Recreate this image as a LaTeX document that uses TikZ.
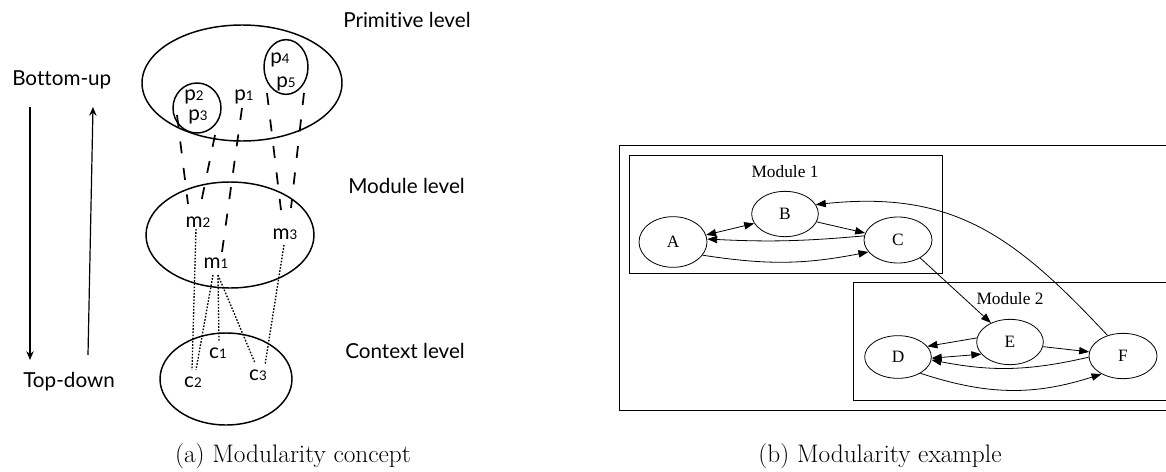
\documentclass[tikz,border=0pt]{standalone}
\usepackage{fontspec}
\usetikzlibrary{shapes.geometric,arrows.meta}
\newfontfamily\gillfont[Ligatures=NoCommon]{Lato}
\newfontfamily\graphfont{Liberation Serif}
% small index digit after a letter (p2, m1, c3 ...)
\newcommand\idx[1]{{\fontsize{10}{10}\selectfont #1}}

\begin{document}
\begin{tikzpicture}[x=0.75pt,y=0.75pt,
  every node/.style={inner sep=0pt},
  gill/.style={font=\gillfont\fontsize{15.5}{18}\selectfont},
  levelell/.style={draw, ellipse, line width=1.1pt},
  longdash/.style={line width=1.3pt, dash pattern=on 9pt off 11pt},
  finedot/.style={line width=1pt, dash pattern=on 1.2pt off 1.2pt},
  flowarrow/.style={line width=0.9pt, -{Stealth[length=6.5pt,width=5.5pt]}},
  gnode/.style={draw, ellipse, line width=0.6pt, font=\graphfont\fontsize{13}{15}\selectfont},
  cluster/.style={line width=0.7pt},
  gedge/.style={line width=0.6pt, -{Triangle[length=7.5pt,width=5.5pt]}},
  gedgeboth/.style={line width=0.6pt, {Triangle[length=7.5pt,width=5.5pt]}-{Triangle[length=7.5pt,width=5.5pt]}},
  caption/.style={font=\fontsize{19}{22}\selectfont, anchor=base}
]
\useasboundingbox (0,0) rectangle (1166,-471);

% ---------------- (a) levels of modularity ----------------
\node[levelell, minimum width=150pt, minimum height=87pt] (prim) at (242,-83) {};
\node[levelell, minimum width=36pt, minimum height=37.5pt] (grpA) at (197,-108) {};
\node[levelell, minimum width=33pt, minimum height=41pt] (grpB) at (286,-67) {};
\node[levelell, minimum width=126pt, minimum height=79.5pt] (modl) at (230,-235) {};
\node[levelell, minimum width=99pt, minimum height=69pt] (ctxt) at (226,-379) {};

\node[gill, anchor=base] (p2) at (194,-100) {p\idx{2}};
\node[gill, anchor=base] (p3) at (198,-120) {p\idx{3}};
\node[gill, anchor=base] (p1) at (244,-100) {p\idx{1}};
\node[gill, anchor=base] (p4) at (280,-63) {p\idx{4}};
\node[gill, anchor=base] (p5) at (286,-87) {p\idx{5}};
\node[gill, anchor=base] (m2) at (198,-227) {m\idx{2}};
\node[gill, anchor=base] (m3) at (285,-239) {m\idx{3}};
\node[gill, anchor=base] (m1) at (216,-268) {m\idx{1}};
\node[gill, anchor=base] (c1) at (218,-358) {c\idx{1}};
\node[gill, anchor=base] (c2) at (193,-387) {c\idx{2}};
\node[gill, anchor=base] (c3) at (258,-380) {c\idx{3}};

\node[gill, anchor=base west] (lprim) at (343,-27) {Primitive level};
\node[gill, anchor=base west] (lmod) at (348,-193) {Module level};
\node[gill, anchor=base west] (lctx) at (345,-358) {Context level};
\node[gill, anchor=base west] (bup) at (12,-85) {Bottom-up};
\node[gill, anchor=base west] (tdown) at (23,-387) {Top-down};

% direction arrows
\coordinate (downS) at (30,-107);
\coordinate (downE) at (30,-360);
\coordinate (upS) at (88,-355);
\coordinate (upE) at (93,-107);
\draw[flowarrow] (downS) -- (downE);
\draw[flowarrow] (upS) -- (upE);

% primitive -> module links
\coordinate (d1s) at (177,-115); \coordinate (d1e) at (188,-204);
\coordinate (d2s) at (215,-135); \coordinate (d2e) at (201,-203);
\coordinate (d3s) at (242,-108); \coordinate (d3e) at (222,-252);
\coordinate (d4s) at (267,-93);  \coordinate (d4e) at (281,-210);
\coordinate (d5s) at (304,-93);  \coordinate (d5e) at (291,-208);
\draw[longdash] (d1s) -- (d1e);
\draw[longdash] (d2s) -- (d2e);
\draw[longdash] (d3s) -- (d3e);
\draw[longdash] (d4s) -- (d4e);
\draw[longdash] (d5s) -- (d5e);

% module -> context links
\coordinate (t1s) at (196,-229); \coordinate (t1e) at (192,-370);
\coordinate (t2s) at (213,-275); \coordinate (t2e) at (196,-370);
\coordinate (t3s) at (218,-275); \coordinate (t3e) at (219,-342);
\coordinate (t4s) at (218,-275); \coordinate (t4e) at (255,-363);
\coordinate (t5s) at (284,-245); \coordinate (t5e) at (265,-365);
\draw[finedot] (t1s) -- (t1e);
\draw[finedot] (t2s) -- (t2e);
\draw[finedot] (t3s) -- (t3e);
\draw[finedot] (t4s) -- (t4e);
\draw[finedot] (t5s) -- (t5e);

\node[caption] (capa) at (293,-462) {(a) Modularity concept};

% ---------------- (b) module graph ----------------
\draw[cluster] (1166,-145) -- (619,-145) -- (619,-410) -- (1166,-410);
\draw[cluster] (629,-155) rectangle (942,-273);
\draw[cluster] (1166,-282) -- (853,-282) -- (853,-400) -- (1166,-400);
\node[font=\graphfont\fontsize{13}{15}\selectfont] (mod1) at (785,-172) {Module 1};
\node[font=\graphfont\fontsize{13}{15}\selectfont] (mod2) at (1010,-299) {Module 2};

\node[gnode, minimum width=51pt, minimum height=38pt] (A) at (673,-242) {A};
\node[gnode, minimum width=50pt, minimum height=34pt] (B) at (785,-214) {B};
\node[gnode, minimum width=51pt, minimum height=34.5pt] (C) at (898,-240) {C};
\node[gnode, minimum width=50pt, minimum height=32pt] (D) at (898,-357) {D};
\node[gnode, minimum width=50pt, minimum height=34pt] (E) at (1010,-342) {E};
\node[gnode, minimum width=51pt, minimum height=34pt] (F) at (1123,-356) {F};

\draw[gedgeboth] (A.12) -- (B.197);
\draw[gedge] (B.-14) -- (C.168);
\draw[gedge] (C.173) to[bend left=4] (A.5);
\draw[gedge] (A.-24) to[bend right=10] (C.202);
\draw[gedge] (F.127) to[out=133, in=6, looseness=1.1] (B.17);
\draw[gedge] (C.-39) -- (E.135);
\draw[gedge] (E.173) -- (D.20);
\draw[gedgeboth] (D.-2) -- (E.203);
\draw[gedge] (E.-8) -- (F.173);
\draw[gedge] (F.182) to[bend left=12] (D.-5);
\draw[gedge] (D.-36) to[bend right=18] (F.220);

\node[caption] (capb) at (880,-462) {(b) Modularity example};
\end{tikzpicture}
\end{document}
